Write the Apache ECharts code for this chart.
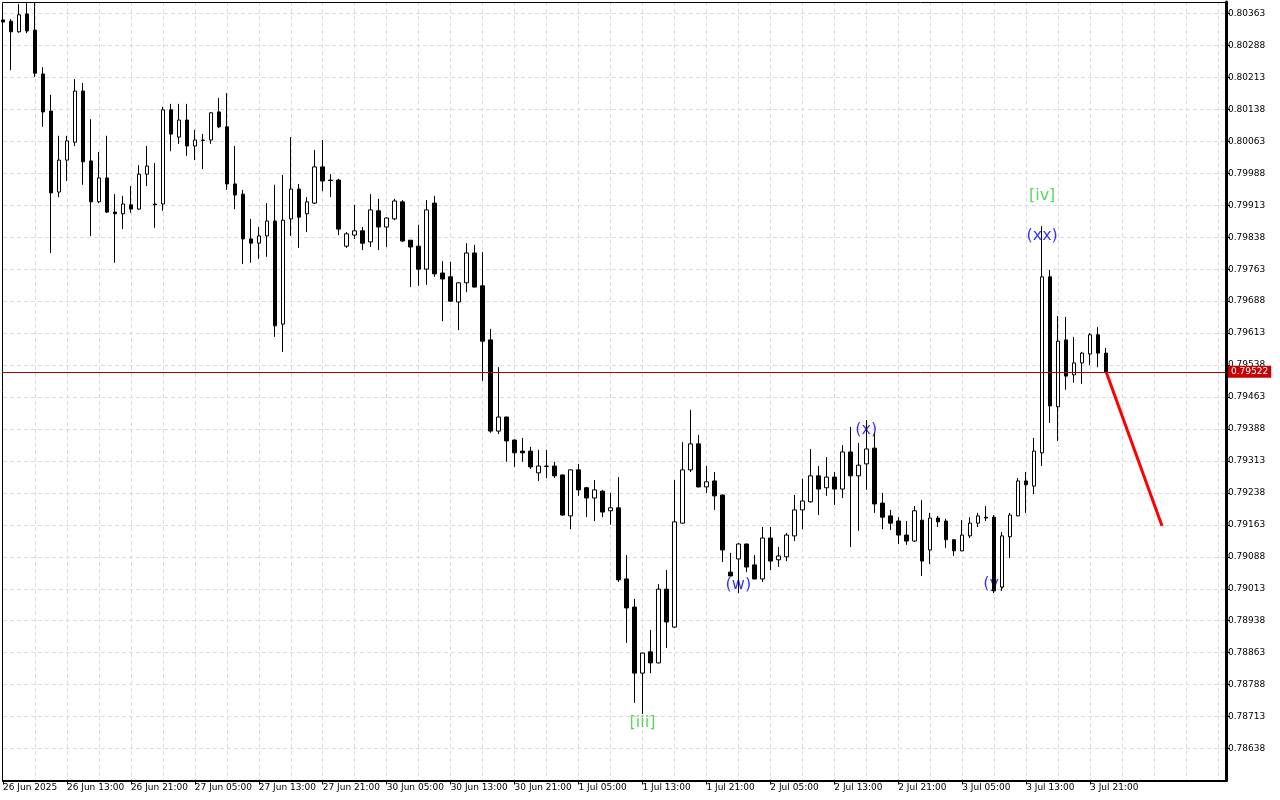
<!DOCTYPE html>
<html><head><meta charset="utf-8">
<script src="https://cdn.jsdelivr.net/npm/echarts@6/dist/echarts.min.js"></script>
<style>html,body{margin:0;padding:0;background:#fff}#c{width:1280px;height:800px}</style>
</head><body><div id="c"></div><script>
// ---- data (hourly candles, 26 Jun 2025 05:00 .. 3 Jul 2025 23:00) ----
const opens = [
0.80348,0.80345,0.80320,0.80362,0.80324,0.80221,0.80134,0.79944,0.80019,0.80061,
0.80181,0.80017,0.79921,0.79977,0.79897,0.79893,0.79914,0.79904,0.79986,0.79916,
0.79916,0.80137,0.80073,0.80113,0.80052,0.80065,0.80066,0.80132,0.80097,0.79963,
0.79939,0.79834,0.79824,0.79841,0.79876,0.79634,0.79881,0.79951,0.79893,0.79918,
0.80003,0.79972,0.79972,0.79817,0.79843,0.79853,0.79827,0.79900,0.79862,0.79881,
0.79921,0.79831,0.79817,0.79763,0.79918,0.79754,0.79745,0.79686,0.79731,0.79801,
0.79724,0.79597,0.79383,0.79416,0.79362,0.79336,0.79336,0.79285,0.79300,0.79301,
0.79280,0.79184,0.79292,0.79250,0.79226,0.79242,0.79196,0.79203,0.79036,0.78970,
0.78815,0.78865,0.78839,0.79012,0.78923,0.79167,0.79292,0.79353,0.79252,0.79266,
0.79233,0.79052,0.79083,0.79118,0.79069,0.79036,0.79132,0.79081,0.79088,0.79137,
0.79198,0.79217,0.79278,0.79250,0.79275,0.79247,0.79334,0.79278,0.79306,0.79343,
0.79214,0.79184,0.79172,0.79139,0.79125,0.79174,0.79104,0.79179,0.79172,0.79128,
0.79102,0.79137,0.79167,0.79181,0.79181,0.79017,0.79135,0.79184,0.79266,0.79254,
0.79332,0.79745,0.79440,0.79597,0.79515,0.79543,0.79564,0.79609,0.79566];
const closes = [
0.80343,0.80320,0.80360,0.80322,0.80223,0.80132,0.79942,0.80019,0.80064,0.80181,
0.80015,0.79921,0.79977,0.79897,0.79893,0.79916,0.79904,0.79986,0.80005,0.79914,
0.80137,0.80080,0.80113,0.80052,0.80066,0.80066,0.80130,0.80097,0.79963,0.79937,
0.79834,0.79824,0.79841,0.79876,0.79630,0.79878,0.79951,0.79885,0.79921,0.80003,
0.79970,0.79971,0.79857,0.79846,0.79853,0.79824,0.79902,0.79862,0.79883,0.79923,
0.79829,0.79815,0.79763,0.79902,0.79752,0.79740,0.79688,0.79731,0.79801,0.79721,
0.79594,0.79383,0.79416,0.79360,0.79332,0.79332,0.79299,0.79301,0.79301,0.79278,
0.79186,0.79292,0.79245,0.79226,0.79245,0.79193,0.79203,0.79034,0.78968,0.78815,
0.78862,0.78839,0.79012,0.78935,0.79170,0.79292,0.79353,0.79252,0.79264,0.79231,
0.79104,0.79043,0.79118,0.79064,0.79036,0.79132,0.79078,0.79090,0.79139,0.79198,
0.79219,0.79278,0.79247,0.79275,0.79247,0.79334,0.79278,0.79303,0.79341,0.79212,
0.79181,0.79167,0.79139,0.79125,0.79196,0.79078,0.79179,0.79170,0.79128,0.79102,
0.79139,0.79167,0.79184,0.79179,0.79008,0.79137,0.79186,0.79266,0.79257,0.79336,
0.79745,0.79442,0.79594,0.79512,0.79543,0.79566,0.79609,0.79566,0.79522];
const highs = [
0.80350,0.80350,0.80385,0.80390,0.80390,0.80237,0.80172,0.80076,0.80076,0.80209,
0.80200,0.80115,0.80038,0.80076,0.79939,0.79935,0.79958,0.80007,0.80052,0.80012,
0.80144,0.80151,0.80151,0.80151,0.80090,0.80080,0.80131,0.80165,0.80176,0.80052,
0.79949,0.79881,0.79862,0.79918,0.79961,0.79984,0.80073,0.79963,0.79932,0.80043,
0.80066,0.79986,0.79975,0.79850,0.79914,0.79862,0.79939,0.79928,0.79885,0.79928,
0.79925,0.79831,0.79867,0.79925,0.79935,0.79782,0.79780,0.79732,0.79824,0.79820,
0.79803,0.79623,0.79533,0.79417,0.79363,0.79367,0.79346,0.79339,0.79339,0.79311,
0.79281,0.79293,0.79306,0.79252,0.79268,0.79245,0.79238,0.79275,0.79092,0.78989,
0.78863,0.78916,0.79024,0.79057,0.79268,0.79357,0.79433,0.79374,0.79301,0.79287,
0.79234,0.79097,0.79120,0.79119,0.79092,0.79158,0.79158,0.79111,0.79144,0.79233,
0.79271,0.79341,0.79301,0.79322,0.79287,0.79350,0.79393,0.79355,0.79409,0.79379,
0.79238,0.79198,0.79181,0.79172,0.79207,0.79221,0.79191,0.79184,0.79177,0.79129,
0.79174,0.79181,0.79191,0.79207,0.79186,0.79146,0.79191,0.79273,0.79287,0.79367,
0.79864,0.79761,0.79653,0.79651,0.79604,0.79569,0.79613,0.79627,0.79578];
const lows = [
0.80341,0.80230,0.80318,0.80317,0.80214,0.80097,0.79801,0.79932,0.79970,0.80052,
0.79961,0.79841,0.79918,0.79895,0.79778,0.79857,0.79895,0.79902,0.79958,0.79860,
0.79900,0.80040,0.80057,0.80029,0.80019,0.79998,0.80057,0.80094,0.79949,0.79904,
0.79775,0.79778,0.79787,0.79792,0.79604,0.79569,0.79841,0.79813,0.79850,0.79916,
0.79946,0.79932,0.79843,0.79813,0.79834,0.79808,0.79815,0.79808,0.79815,0.79878,
0.79827,0.79721,0.79724,0.79726,0.79745,0.79641,0.79686,0.79620,0.79709,0.79720,
0.79501,0.79379,0.79376,0.79311,0.79299,0.79311,0.79294,0.79266,0.79273,0.79273,
0.79184,0.79153,0.79231,0.79181,0.79172,0.79181,0.79163,0.79029,0.78886,0.78745,
0.78719,0.78815,0.78838,0.78874,0.78921,0.79166,0.79287,0.79251,0.79238,0.79198,
0.79076,0.79042,0.79003,0.79052,0.79035,0.79029,0.79057,0.79064,0.79078,0.79125,
0.79153,0.79215,0.79186,0.79231,0.79210,0.79226,0.79111,0.79149,0.79245,0.79191,
0.79153,0.79151,0.79118,0.79116,0.79123,0.79043,0.79071,0.79158,0.79109,0.79090,
0.79101,0.79132,0.79158,0.79172,0.79003,0.79008,0.79085,0.79183,0.79191,0.79235,
0.79301,0.79402,0.79360,0.79480,0.79496,0.79494,0.79538,0.79533,0.79521];

const xTickLabels = ["26 Jun 2025","26 Jun 13:00","26 Jun 21:00","27 Jun 05:00","27 Jun 13:00",
  "27 Jun 21:00","30 Jun 05:00","30 Jun 13:00","30 Jun 21:00","1 Jul 05:00","1 Jul 13:00",
  "1 Jul 21:00","2 Jul 05:00","2 Jul 13:00","2 Jul 21:00","3 Jul 05:00","3 Jul 13:00","3 Jul 21:00"];
const yTickMin = 0.78563, yTickStep = 0.00075, yTop = 0.80390;
const lastPrice = 0.79522;

const waveText  = ["[iii]","(w)","(x)","(y)","[iv]","(xx)"];
const waveIndex = [80, 92, 108, 124, 130, 130];
const wavePrice = [0.78698, 0.79022, 0.79386, 0.79024, 0.79935, 0.79841];

const forecastIndex = [138, 145];
const forecastPrice = [0.79522, 0.79160];

// ---- hourly categories (weekend skipped) ----
const MON = ["Jan","Feb","Mar","Apr","May","Jun","Jul","Aug","Sep","Oct","Nov","Dec"];
const categories = [];
(function(){
  let t = Date.UTC(2025,5,26,5,0);
  while (categories.length < 154) {
    const d = new Date(t);
    const wd = d.getUTCDay();
    if (wd !== 0 && wd !== 6) {
      const hh = String(d.getUTCHours()).padStart(2,'0');
      categories.push(d.getUTCDate()+' '+MON[d.getUTCMonth()]+' '+hh+':00');
    }
    t += 3600000;
  }
})();

const candleData = opens.map((o,i)=>[o, closes[i], lows[i], highs[i]]);
const waveData = waveText.map((t,i)=>({
  value:[waveIndex[i], wavePrice[i]],
  label:{color: t.charAt(0)==='[' ? '#32cd32' : '#0000ff'}
}));
const forecastData = forecastIndex.map((x,i)=>[x, forecastPrice[i]]);

const axisFont = 'DejaVu Sans';
const chart = echarts.init(document.getElementById('c'), null, {renderer:'canvas'});
chart.setOption({
  animation:false,
  backgroundColor:'#ffffff',
  grid:{left:2, right:54, top:2, bottom:19.5, show:false},
  graphic:[{
    type:'rect', z:100, silent:true,
    shape:{x:2.5, y:2.5, width:1224, height:778},
    style:{fill:null, stroke:'#000', lineWidth:1}
  }],
  xAxis:{
    type:'category', data:categories, boundaryGap:false,
    axisLine:{show:true, onZero:false, lineStyle:{color:'#000', width:2}},
    axisTick:{show:true, length:4, lineStyle:{color:'#000', width:1},
      interval:(i)=> i%8===0 && i<=138},
    axisLabel:{show:true, align:'left', margin:3, color:'#000', fontSize:9, fontFamily:axisFont,
      interval:(i)=> i%8===0 && i<=138,
      formatter:(v,i)=> xTickLabels[Math.round(i/8)] || ''},
    splitLine:{show:true, interval:(i)=> i%4===0 && i>0,
      lineStyle:{color:'#dcdcdc', type:[4,3], width:1}}
  },
  yAxis:{
    type:'value', position:'right', scale:true,
    min:yTickMin, max:yTop, interval:yTickStep,
    axisLine:{show:true, lineStyle:{color:'#000', width:3}},
    axisTick:{show:true, length:4, lineStyle:{color:'#000', width:1}},
    axisLabel:{show:true, margin:2, color:'#000', fontSize:9, fontFamily:axisFont,
      showMinLabel:false, showMaxLabel:false,
      formatter:(v)=> v.toFixed(5)},
    splitLine:{show:true, lineStyle:{color:'#dcdcdc', type:[4,3], width:1}}
  },
  series:[
    {
      type:'scatter', z:1, symbolSize:0, data:waveData, silent:true,
      label:{show:true, position:'inside', fontFamily:'DejaVu Sans', fontSize:16,
        formatter:(p)=> waveText[p.dataIndex]}
    },
    {
      type:'candlestick', z:3, data:candleData, barWidth:4, clip:true,
      itemStyle:{color:'#ffffff', color0:'#000000', borderColor:'#000000', borderColor0:'#000000', borderWidth:1}
    },
    {
      type:'line', z:4, data:forecastData, symbol:'none', silent:true,
      lineStyle:{color:'#ff0000', width:3},
      markLine:{
        silent:true, symbol:['none','none'], animation:false, precision:5,
        lineStyle:{color:'#b40000', type:'solid', width:1},
        label:{show:true, position:'end', distance:2, formatter:()=> lastPrice.toFixed(5),
          color:'#fff', backgroundColor:'#c80000', fontSize:9, fontFamily:axisFont, padding:[2,3,1,3]},
        data:[{yAxis:lastPrice}]
      }
    }
  ]
});
</script></body></html>
